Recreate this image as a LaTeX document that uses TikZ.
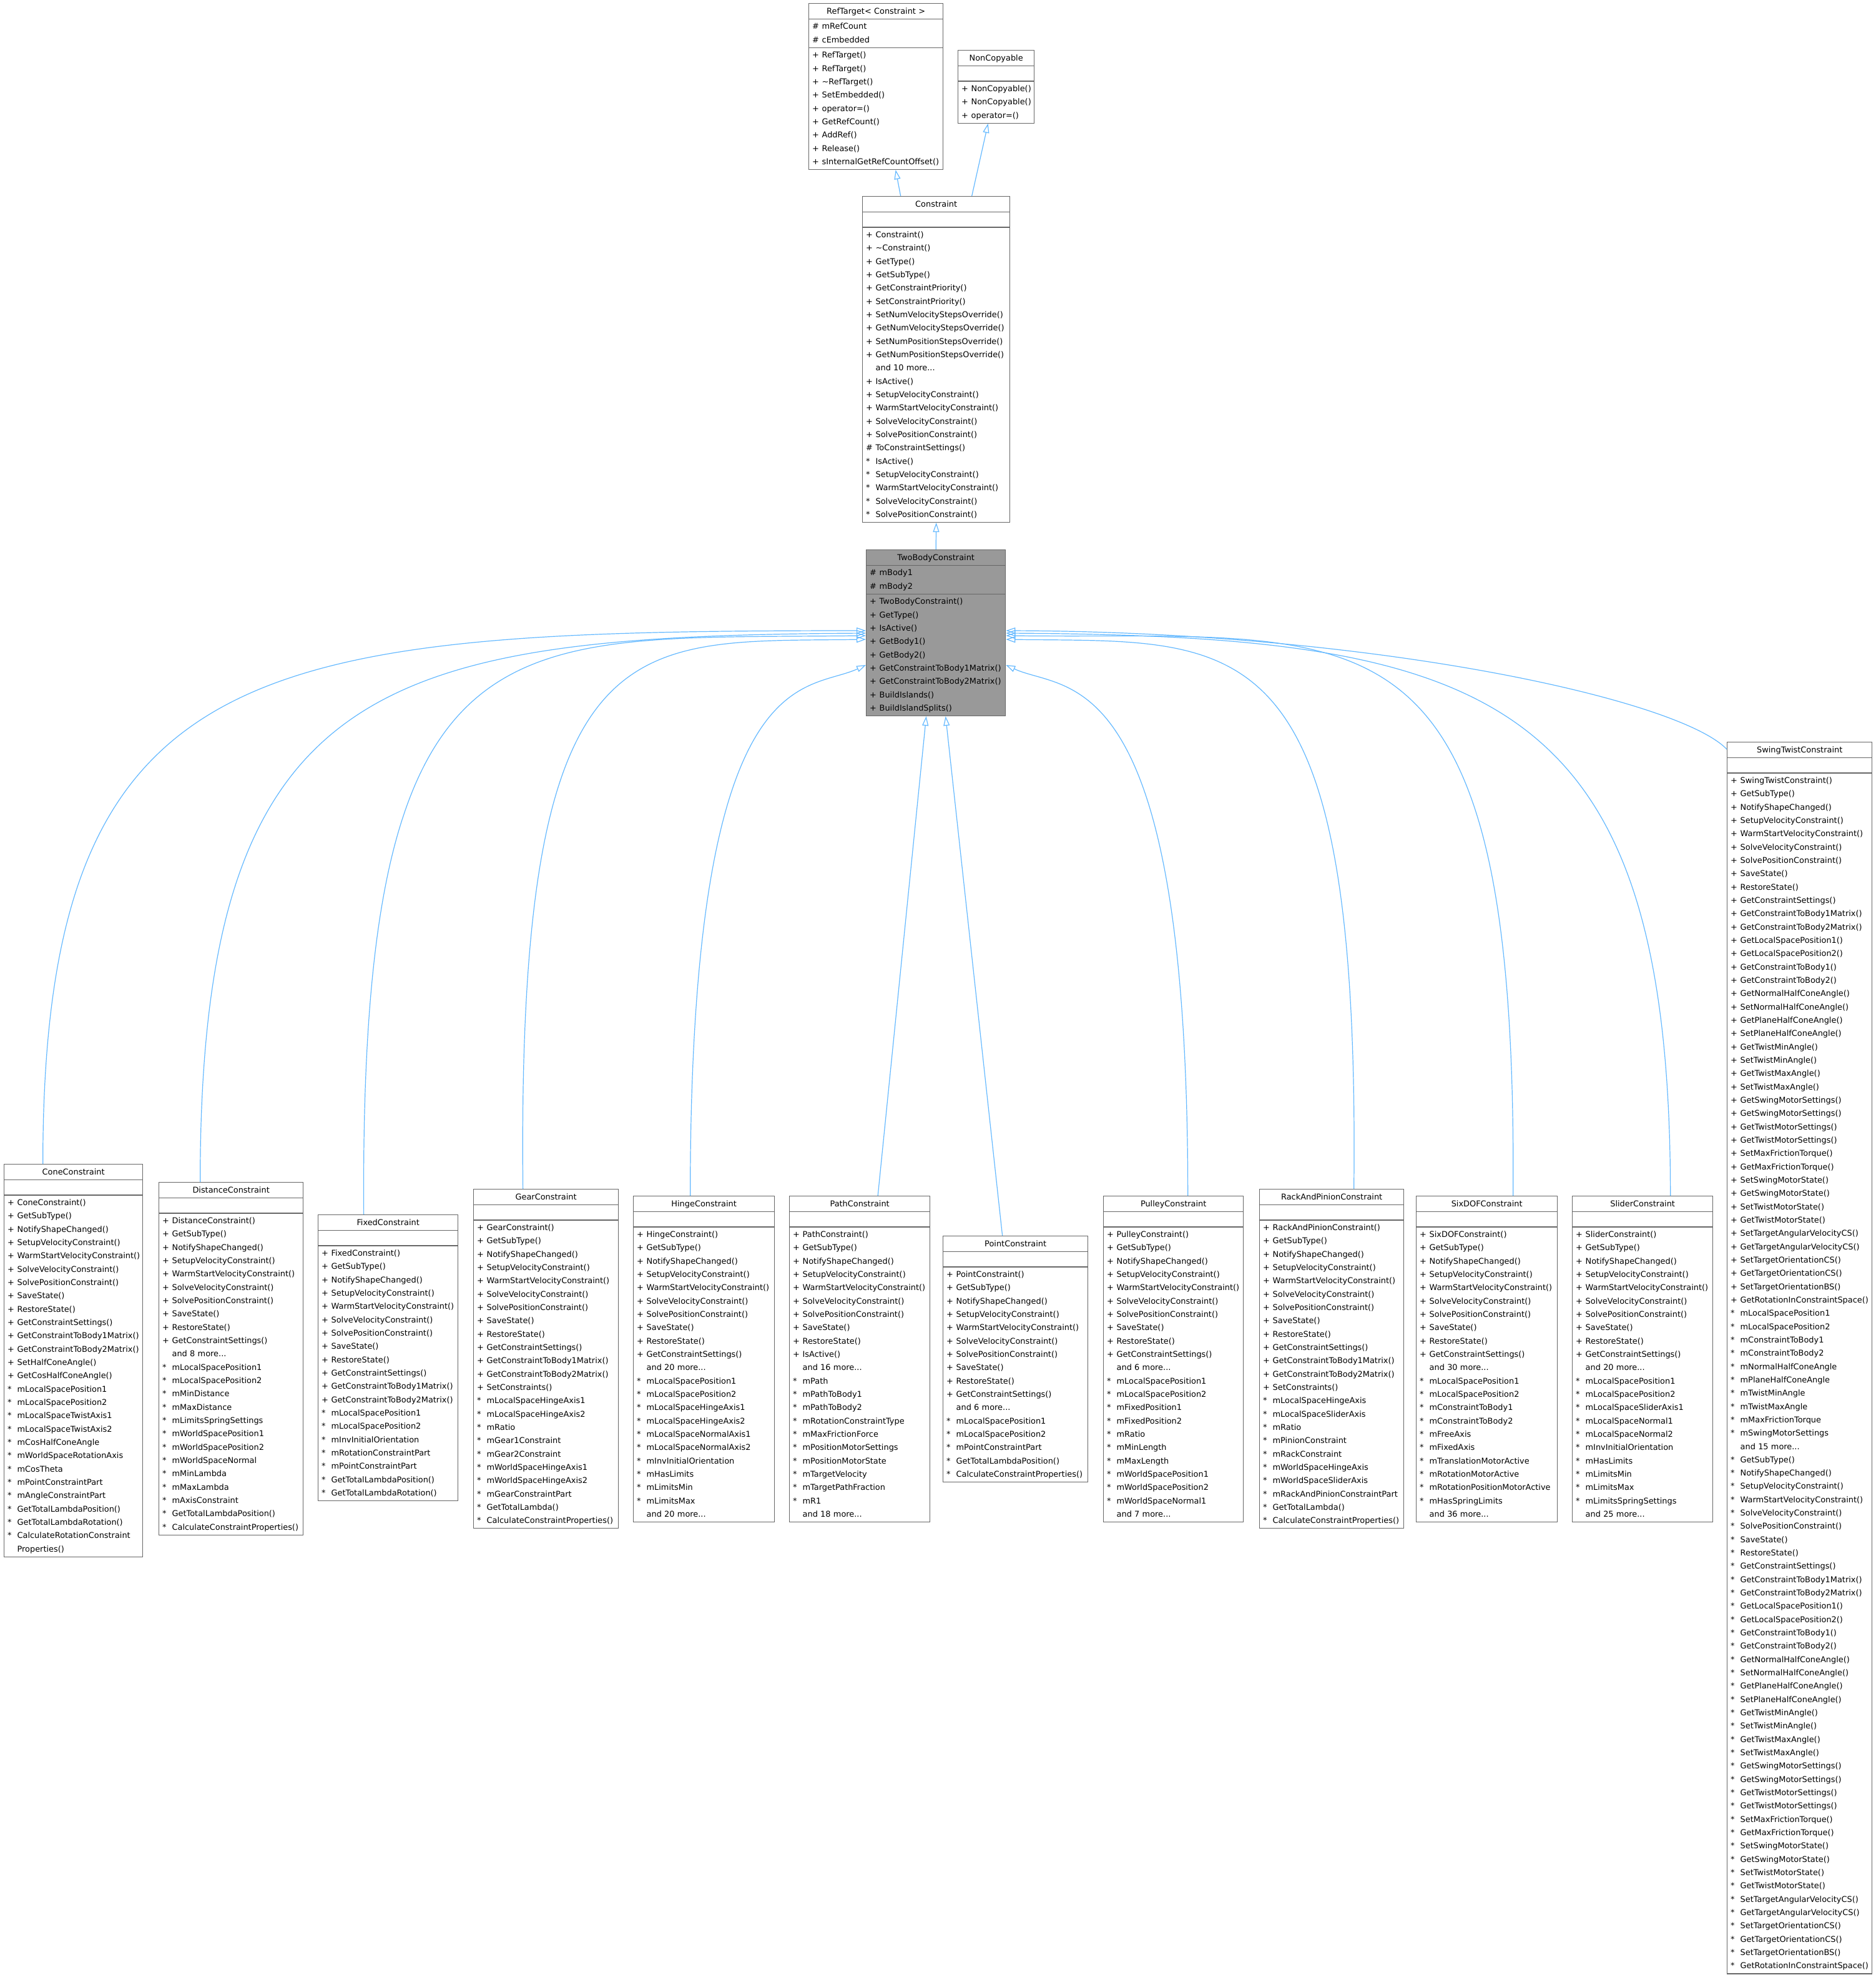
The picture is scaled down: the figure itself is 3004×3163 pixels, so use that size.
\documentclass[tikz,border=0pt]{standalone}
\usepackage{fontspec}
\setmainfont{DejaVu Sans}
\usetikzlibrary{shapes.multipart,arrows.meta}

\definecolor{boxgray}{HTML}{666666}
\definecolor{edgeblue}{HTML}{63B8FF}
\definecolor{curgray}{HTML}{999999}

% eine Zeile: Sichtbarkeit + Name
\newcommand{\mb}[2]{\strut\makebox[15.5pt][l]{#1}\mbox{#2}}
% Klassenname mittig
\newcommand{\ttl}[1]{\centering\strut #1\par}
% gemeinsame Methoden
\newcommand{\basics}[1]{\mb{#1}{GetSubType()}\\\mb{#1}{NotifyShapeChanged()}\\\mb{#1}{SetupVelocityConstraint()}\\%
  \mb{#1}{WarmStartVelocityConstraint()}\\\mb{#1}{SolveVelocityConstraint()}\\\mb{#1}{SolvePositionConstraint()}\\%
  \mb{#1}{SaveState()}\\\mb{#1}{RestoreState()}}
\newcommand{\swingapi}[1]{\mb{#1}{GetConstraintSettings()}\\\mb{#1}{GetConstraintToBody1Matrix()}\\%
  \mb{#1}{GetConstraintToBody2Matrix()}\\\mb{#1}{GetLocalSpacePosition1()}\\\mb{#1}{GetLocalSpacePosition2()}\\%
  \mb{#1}{GetConstraintToBody1()}\\\mb{#1}{GetConstraintToBody2()}\\\mb{#1}{GetNormalHalfConeAngle()}\\%
  \mb{#1}{SetNormalHalfConeAngle()}\\\mb{#1}{GetPlaneHalfConeAngle()}\\\mb{#1}{SetPlaneHalfConeAngle()}\\%
  \mb{#1}{GetTwistMinAngle()}\\\mb{#1}{SetTwistMinAngle()}\\\mb{#1}{GetTwistMaxAngle()}\\\mb{#1}{SetTwistMaxAngle()}\\%
  \mb{#1}{GetSwingMotorSettings()}\\\mb{#1}{GetSwingMotorSettings()}\\\mb{#1}{GetTwistMotorSettings()}\\%
  \mb{#1}{GetTwistMotorSettings()}\\\mb{#1}{SetMaxFrictionTorque()}\\\mb{#1}{GetMaxFrictionTorque()}\\%
  \mb{#1}{SetSwingMotorState()}\\\mb{#1}{GetSwingMotorState()}\\\mb{#1}{SetTwistMotorState()}\\%
  \mb{#1}{GetTwistMotorState()}\\\mb{#1}{SetTargetAngularVelocityCS()}\\\mb{#1}{GetTargetAngularVelocityCS()}\\%
  \mb{#1}{SetTargetOrientationCS()}\\\mb{#1}{GetTargetOrientationCS()}\\\mb{#1}{SetTargetOrientationBS()}\\%
  \mb{#1}{GetRotationInConstraintSpace()}}

\begin{document}
\begin{tikzpicture}[x=1pt, y=-1pt,
    cls/.style={rectangle split, rectangle split parts=3, draw=boxgray, line width=1.3pt, fill=white,
      font=\fontsize{12.9}{21.33}\selectfont, align=left, inner xsep=5.5pt, inner ysep=1pt, anchor=north west},
    inherit/.style={draw=edgeblue, line width=1.2pt, -{Triangle[open,length=15pt,width=10pt]}}]
\useasboundingbox (0,0) rectangle (3004,3163);

% Basisklassen oben:
\node[cls, text width=204pt] (reftarget) at (1295,5) {\ttl{RefTarget< Constraint >}
  \nodepart{two}\mb{\#}{mRefCount}\\\mb{\#}{cEmbedded}
  \nodepart{three}\mb{+}{RefTarget()}\\\mb{+}{RefTarget()}\\\mb{+}{\textasciitilde RefTarget()}\\\mb{+}{SetEmbedded()}\\
  \mb{+}{operator=()}\\\mb{+}{GetRefCount()}\\\mb{+}{AddRef()}\\\mb{+}{Release()}\\\mb{+}{sInternalGetRefCountOffset()}};
\node[cls, text width=111pt] (noncopy) at (1534,80) {\ttl{NonCopyable}
  \nodepart{two}\strut
  \nodepart{three}\mb{+}{NonCopyable()}\\\mb{+}{NonCopyable()}\\\mb{+}{operator=()}};
\node[cls, text width=225pt] (constraint) at (1381,314) {\ttl{Constraint}
  \nodepart{two}\strut
  \nodepart{three}\mb{+}{Constraint()}\\\mb{+}{\textasciitilde Constraint()}\\\mb{+}{GetType()}\\\mb{+}{GetSubType()}\\
  \mb{+}{GetConstraintPriority()}\\\mb{+}{SetConstraintPriority()}\\\mb{+}{SetNumVelocityStepsOverride()}\\
  \mb{+}{GetNumVelocityStepsOverride()}\\\mb{+}{SetNumPositionStepsOverride()}\\\mb{+}{GetNumPositionStepsOverride()}\\
  \mb{}{and 10 more...}\\\mb{+}{IsActive()}\\\mb{+}{SetupVelocityConstraint()}\\\mb{+}{WarmStartVelocityConstraint()}\\
  \mb{+}{SolveVelocityConstraint()}\\\mb{+}{SolvePositionConstraint()}\\\mb{\#}{ToConstraintSettings()}\\
  \mb{*}{IsActive()}\\\mb{*}{SetupVelocityConstraint()}\\\mb{*}{WarmStartVelocityConstraint()}\\
  \mb{*}{SolveVelocityConstraint()}\\\mb{*}{SolvePositionConstraint()}};
\node[cls, fill=curgray, text width=212pt] (twobody) at (1387,880) {\ttl{TwoBodyConstraint}
  \nodepart{two}\mb{\#}{mBody1}\\\mb{\#}{mBody2}
  \nodepart{three}\mb{+}{TwoBodyConstraint()}\\\mb{+}{GetType()}\\\mb{+}{IsActive()}\\\mb{+}{GetBody1()}\\\mb{+}{GetBody2()}\\
  \mb{+}{GetConstraintToBody1Matrix()}\\\mb{+}{GetConstraintToBody2Matrix()}\\\mb{+}{BuildIslands()}\\\mb{+}{BuildIslandSplits()}};

% Kindklassen unten:
\node[cls, text width=211pt] (cone) at (6,1864) {\ttl{ConeConstraint}
  \nodepart{two}\strut
  \nodepart{three}\mb{+}{ConeConstraint()}\\\basics{+}\\\mb{+}{GetConstraintSettings()}\\
  \mb{+}{GetConstraintToBody1Matrix()}\\\mb{+}{GetConstraintToBody2Matrix()}\\\mb{+}{SetHalfConeAngle()}\\
  \mb{+}{GetCosHalfConeAngle()}\\\mb{*}{mLocalSpacePosition1}\\\mb{*}{mLocalSpacePosition2}\\\mb{*}{mLocalSpaceTwistAxis1}\\
  \mb{*}{mLocalSpaceTwistAxis2}\\\mb{*}{mCosHalfConeAngle}\\\mb{*}{mWorldSpaceRotationAxis}\\\mb{*}{mCosTheta}\\
  \mb{*}{mPointConstraintPart}\\\mb{*}{mAngleConstraintPart}\\\mb{*}{GetTotalLambdaPosition()}\\
  \mb{*}{GetTotalLambdaRotation()}\\\mb{*}{CalculateRotationConstraint}\\\mb{}{Properties()}};
\node[cls, text width=220pt] (distance) at (254,1893) {\ttl{DistanceConstraint}
  \nodepart{two}\strut
  \nodepart{three}\mb{+}{DistanceConstraint()}\\\basics{+}\\\mb{+}{GetConstraintSettings()}\\\mb{}{and 8 more...}\\
  \mb{*}{mLocalSpacePosition1}\\\mb{*}{mLocalSpacePosition2}\\\mb{*}{mMinDistance}\\\mb{*}{mMaxDistance}\\
  \mb{*}{mLimitsSpringSettings}\\\mb{*}{mWorldSpacePosition1}\\\mb{*}{mWorldSpacePosition2}\\\mb{*}{mWorldSpaceNormal}\\
  \mb{*}{mMinLambda}\\\mb{*}{mMaxLambda}\\\mb{*}{mAxisConstraint}\\\mb{*}{GetTotalLambdaPosition()}\\
  \mb{*}{CalculateConstraintProperties()}};
\node[cls, text width=213pt] (fixed) at (509,1945) {\ttl{FixedConstraint}
  \nodepart{two}\strut
  \nodepart{three}\mb{+}{FixedConstraint()}\\\basics{+}\\\mb{+}{GetConstraintSettings()}\\
  \mb{+}{GetConstraintToBody1Matrix()}\\\mb{+}{GetConstraintToBody2Matrix()}\\\mb{*}{mLocalSpacePosition1}\\
  \mb{*}{mLocalSpacePosition2}\\\mb{*}{mInvInitialOrientation}\\\mb{*}{mRotationConstraintPart}\\
  \mb{*}{mPointConstraintPart}\\\mb{*}{GetTotalLambdaPosition()}\\\mb{*}{GetTotalLambdaRotation()}};
\node[cls, text width=221pt] (gear) at (758,1904) {\ttl{GearConstraint}
  \nodepart{two}\strut
  \nodepart{three}\mb{+}{GearConstraint()}\\\basics{+}\\\mb{+}{GetConstraintSettings()}\\
  \mb{+}{GetConstraintToBody1Matrix()}\\\mb{+}{GetConstraintToBody2Matrix()}\\\mb{+}{SetConstraints()}\\
  \mb{*}{mLocalSpaceHingeAxis1}\\\mb{*}{mLocalSpaceHingeAxis2}\\\mb{*}{mRatio}\\\mb{*}{mGear1Constraint}\\
  \mb{*}{mGear2Constraint}\\\mb{*}{mWorldSpaceHingeAxis1}\\\mb{*}{mWorldSpaceHingeAxis2}\\\mb{*}{mGearConstraintPart}\\
  \mb{*}{GetTotalLambda()}\\\mb{*}{CalculateConstraintProperties()}};
\node[cls, text width=215pt] (hinge) at (1014,1915) {\ttl{HingeConstraint}
  \nodepart{two}\strut
  \nodepart{three}\mb{+}{HingeConstraint()}\\\basics{+}\\\mb{+}{GetConstraintSettings()}\\\mb{}{and 20 more...}\\
  \mb{*}{mLocalSpacePosition1}\\\mb{*}{mLocalSpacePosition2}\\\mb{*}{mLocalSpaceHingeAxis1}\\
  \mb{*}{mLocalSpaceHingeAxis2}\\\mb{*}{mLocalSpaceNormalAxis1}\\\mb{*}{mLocalSpaceNormalAxis2}\\
  \mb{*}{mInvInitialOrientation}\\\mb{*}{mHasLimits}\\\mb{*}{mLimitsMin}\\\mb{*}{mLimitsMax}\\\mb{}{and 20 more...}};
\node[cls, text width=214pt] (path) at (1264,1915) {\ttl{PathConstraint}
  \nodepart{two}\strut
  \nodepart{three}\mb{+}{PathConstraint()}\\\basics{+}\\\mb{+}{IsActive()}\\\mb{}{and 16 more...}\\
  \mb{*}{mPath}\\\mb{*}{mPathToBody1}\\\mb{*}{mPathToBody2}\\\mb{*}{mRotationConstraintType}\\
  \mb{*}{mMaxFrictionForce}\\\mb{*}{mPositionMotorSettings}\\\mb{*}{mPositionMotorState}\\\mb{*}{mTargetVelocity}\\
  \mb{*}{mTargetPathFraction}\\\mb{*}{mR1}\\\mb{}{and 18 more...}};
\node[cls, text width=221pt] (point) at (1510,1979) {\ttl{PointConstraint}
  \nodepart{two}\strut
  \nodepart{three}\mb{+}{PointConstraint()}\\\basics{+}\\\mb{+}{GetConstraintSettings()}\\\mb{}{and 6 more...}\\
  \mb{*}{mLocalSpacePosition1}\\\mb{*}{mLocalSpacePosition2}\\\mb{*}{mPointConstraintPart}\\
  \mb{*}{GetTotalLambdaPosition()}\\\mb{*}{CalculateConstraintProperties()}};
\node[cls, text width=213pt] (pulley) at (1767,1915) {\ttl{PulleyConstraint}
  \nodepart{two}\strut
  \nodepart{three}\mb{+}{PulleyConstraint()}\\\basics{+}\\\mb{+}{GetConstraintSettings()}\\\mb{}{and 6 more...}\\
  \mb{*}{mLocalSpacePosition1}\\\mb{*}{mLocalSpacePosition2}\\\mb{*}{mFixedPosition1}\\\mb{*}{mFixedPosition2}\\
  \mb{*}{mRatio}\\\mb{*}{mMinLength}\\\mb{*}{mMaxLength}\\\mb{*}{mWorldSpacePosition1}\\\mb{*}{mWorldSpacePosition2}\\
  \mb{*}{mWorldSpaceNormal1}\\\mb{}{and 7 more...}};
\node[cls, text width=220pt] (rack) at (2017,1904) {\ttl{RackAndPinionConstraint}
  \nodepart{two}\strut
  \nodepart{three}\mb{+}{RackAndPinionConstraint()}\\\basics{+}\\\mb{+}{GetConstraintSettings()}\\
  \mb{+}{GetConstraintToBody1Matrix()}\\\mb{+}{GetConstraintToBody2Matrix()}\\\mb{+}{SetConstraints()}\\
  \mb{*}{mLocalSpaceHingeAxis}\\\mb{*}{mLocalSpaceSliderAxis}\\\mb{*}{mRatio}\\\mb{*}{mPinionConstraint}\\
  \mb{*}{mRackConstraint}\\\mb{*}{mWorldSpaceHingeAxis}\\\mb{*}{mWorldSpaceSliderAxis}\\
  \mb{*}{mRackAndPinionConstraintPart}\\\mb{*}{GetTotalLambda()}\\\mb{*}{CalculateConstraintProperties()}};
\node[cls, text width=215pt] (sixdof) at (2268,1915) {\ttl{SixDOFConstraint}
  \nodepart{two}\strut
  \nodepart{three}\mb{+}{SixDOFConstraint()}\\\basics{+}\\\mb{+}{GetConstraintSettings()}\\\mb{}{and 30 more...}\\
  \mb{*}{mLocalSpacePosition1}\\\mb{*}{mLocalSpacePosition2}\\\mb{*}{mConstraintToBody1}\\\mb{*}{mConstraintToBody2}\\
  \mb{*}{mFreeAxis}\\\mb{*}{mFixedAxis}\\\mb{*}{mTranslationMotorActive}\\\mb{*}{mRotationMotorActive}\\
  \mb{*}{mRotationPositionMotorActive}\\\mb{*}{mHasSpringLimits}\\\mb{}{and 36 more...}};
\node[cls, text width=214pt] (slider) at (2518,1915) {\ttl{SliderConstraint}
  \nodepart{two}\strut
  \nodepart{three}\mb{+}{SliderConstraint()}\\\basics{+}\\\mb{+}{GetConstraintSettings()}\\\mb{}{and 20 more...}\\
  \mb{*}{mLocalSpacePosition1}\\\mb{*}{mLocalSpacePosition2}\\\mb{*}{mLocalSpaceSliderAxis1}\\\mb{*}{mLocalSpaceNormal1}\\
  \mb{*}{mLocalSpaceNormal2}\\\mb{*}{mInvInitialOrientation}\\\mb{*}{mHasLimits}\\\mb{*}{mLimitsMin}\\\mb{*}{mLimitsMax}\\
  \mb{*}{mLimitsSpringSettings}\\\mb{}{and 25 more...}};
\node[cls, text width=221pt] (swing) at (2766,1188) {\ttl{SwingTwistConstraint}
  \nodepart{two}\strut
  \nodepart{three}\mb{+}{SwingTwistConstraint()}\\\basics{+}\\\swingapi{+}\\
  \mb{*}{mLocalSpacePosition1}\\\mb{*}{mLocalSpacePosition2}\\\mb{*}{mConstraintToBody1}\\\mb{*}{mConstraintToBody2}\\
  \mb{*}{mNormalHalfConeAngle}\\\mb{*}{mPlaneHalfConeAngle}\\\mb{*}{mTwistMinAngle}\\\mb{*}{mTwistMaxAngle}\\
  \mb{*}{mMaxFrictionTorque}\\\mb{*}{mSwingMotorSettings}\\\mb{}{and 15 more...}\\
  \basics{*}\\\swingapi{*}};

% Vererbungspfeile:
\draw[inherit] ([xshift=-57pt]constraint.north) -- ([xshift=31.5pt]reftarget.south);
\draw[inherit] ([xshift=57pt]constraint.north) -- ([xshift=-13pt]noncopy.south);
\draw[inherit] (twobody.north) -- (constraint.south);
\draw[inherit] ([xshift=-49pt]cone.north) .. controls +(0,-815) and +(-983,0) .. ([yshift=-130pt]twobody.north west);
\draw[inherit] ([xshift=-49.5pt]distance.north) .. controls +(0,-803) and +(-782,5) .. ([yshift=-134pt]twobody.north west);
\draw[inherit] ([xshift=-39pt]fixed.north) .. controls +(-7,-977) and +(-580,7) .. ([yshift=-138pt]twobody.north west);
\draw[inherit] ([xshift=-37pt]gear.north) .. controls +(-10,-915) and +(-378,5) .. ([yshift=-144pt]twobody.north west);
\draw[inherit] ([xshift=-22pt]hinge.north) .. controls +(0,-865) and +(-97,45) .. ([yshift=-185pt]twobody.north west);
\draw[inherit] ([xshift=29pt]path.north) -- ([xshift=-15.5pt]twobody.south);
\draw[inherit] ([xshift=-21pt]point.north) -- ([xshift=15.5pt]twobody.south);
\draw[inherit] ([xshift=23pt]pulley.north) .. controls +(0,-865) and +(97,45) .. ([yshift=-185pt]twobody.north east);
\draw[inherit] ([xshift=35.5pt]rack.north) .. controls +(10,-915) and +(378,5) .. ([yshift=-144pt]twobody.north east);
\draw[inherit] ([xshift=42pt]sixdof.north) .. controls +(7,-977) and +(580,7) .. ([yshift=-138pt]twobody.north east);
\draw[inherit] ([xshift=44.5pt]slider.north) .. controls +(0,-803) and +(782,5) .. ([yshift=-134pt]twobody.north east);
\draw[inherit] ([yshift=-12pt]swing.north west) .. controls +(-76,-80) and +(590,2) .. ([yshift=-130pt]twobody.north east);
\end{tikzpicture}
\end{document}
